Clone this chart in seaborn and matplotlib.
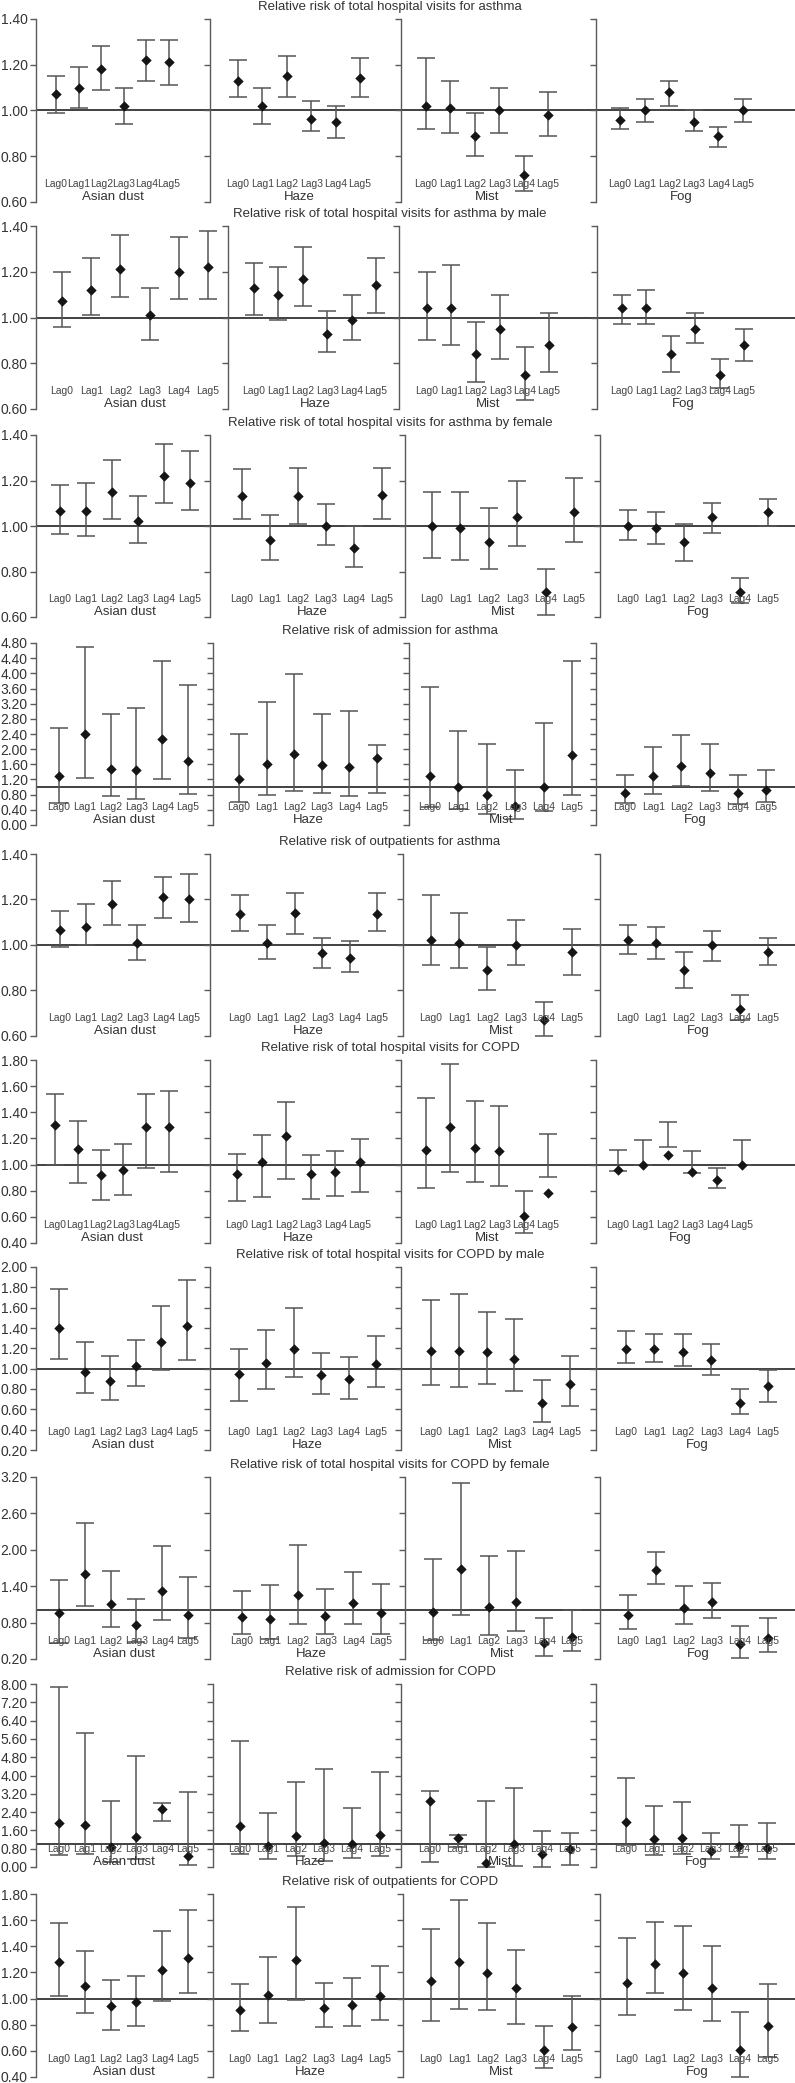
import numpy as np
import pandas as pd
import matplotlib
matplotlib.use("Agg")
import matplotlib.pyplot as plt
import matplotlib.transforms as mtrans
import seaborn as sns

agents = ["Asian dust", "Haze", "Mist", "Fog"]
lags = ["Lag0", "Lag1", "Lag2", "Lag3", "Lag4", "Lag5"]

# each list: [Asian dust, Haze, Mist, Fog] x Lag0..Lag5
asthma_total_rr = [[1.07, 1.10, 1.18, 1.02, 1.22, 1.21], [1.13, 1.02, 1.15, 0.965, 0.95, 1.14],
                   [1.02, 1.01, 0.89, 1.00, 0.72, 0.98], [0.96, 1.00, 1.08, 0.95, 0.89, 1.00]]
asthma_total_lo = [[0.99, 1.01, 1.09, 0.94, 1.13, 1.11], [1.06, 0.94, 1.06, 0.91, 0.88, 1.06],
                   [0.92, 0.90, 0.80, 0.90, 0.65, 0.89], [0.92, 0.95, 1.02, 0.91, 0.84, 0.95]]
asthma_total_hi = [[1.15, 1.19, 1.28, 1.10, 1.31, 1.31], [1.22, 1.10, 1.24, 1.04, 1.02, 1.23],
                   [1.23, 1.13, 0.99, 1.10, 0.80, 1.08], [1.01, 1.05, 1.13, 1.00, 0.93, 1.05]]

asthma_male_rr = [[1.07, 1.12, 1.21, 1.01, 1.20, 1.22], [1.13, 1.10, 1.17, 0.93, 0.99, 1.14],
                  [1.04, 1.04, 0.84, 0.95, 0.75, 0.88], [1.04, 1.04, 0.84, 0.95, 0.75, 0.88]]
asthma_male_lo = [[0.96, 1.01, 1.09, 0.90, 1.08, 1.08], [1.01, 0.99, 1.05, 0.85, 0.90, 1.02],
                  [0.90, 0.88, 0.72, 0.82, 0.64, 0.76], [0.97, 0.97, 0.76, 0.89, 0.69, 0.81]]
asthma_male_hi = [[1.20, 1.26, 1.36, 1.13, 1.35, 1.38], [1.24, 1.22, 1.31, 1.03, 1.10, 1.26],
                  [1.20, 1.23, 0.98, 1.10, 0.87, 1.02], [1.10, 1.12, 0.92, 1.02, 0.82, 0.95]]

asthma_female_rr = [[1.065, 1.066, 1.15, 1.02, 1.22, 1.19], [1.13, 0.94, 1.13, 1.00, 0.905, 1.135],
                    [1.00, 0.99, 0.93, 1.04, 0.71, 1.06], [1.00, 0.99, 0.93, 1.04, 0.71, 1.06]]
asthma_female_lo = [[0.965, 0.955, 1.03, 0.925, 1.10, 1.07], [1.03, 0.85, 1.01, 0.915, 0.82, 1.03],
                    [0.86, 0.85, 0.81, 0.91, 0.61, 0.93], [0.94, 0.92, 0.845, 0.97, 0.66, 1.00]]
asthma_female_hi = [[1.18, 1.19, 1.29, 1.13, 1.36, 1.33], [1.25, 1.05, 1.255, 1.095, 1.00, 1.255],
                    [1.15, 1.15, 1.08, 1.20, 0.81, 1.21], [1.07, 1.06, 1.01, 1.10, 0.77, 1.12]]

asthma_adm_rr = [[1.28, 2.41, 1.48, 1.45, 2.28, 1.70], [1.21, 1.62, 1.88, 1.58, 1.52, 1.78],
                 [1.30, 1.00, 0.79, 0.49, 1.01, 1.85], [0.85, 1.29, 1.55, 1.38, 0.85, 0.92]]
asthma_adm_lo = [[0.59, 1.23, 0.77, 0.68, 1.21, 0.81], [0.61, 0.80, 0.90, 0.84, 0.76, 0.85],
                 [0.48, 0.41, 0.29, 0.17, 0.37, 0.78], [0.58, 0.83, 1.02, 0.90, 0.55, 0.61]]
asthma_adm_hi = [[2.57, 4.70, 2.94, 3.08, 4.32, 3.69], [2.41, 3.25, 3.99, 2.94, 3.01, 2.11],
                 [3.63, 2.47, 2.14, 1.45, 2.70, 4.32], [1.33, 2.05, 2.37, 2.13, 1.33, 1.46]]

asthma_out_rr = [[1.065, 1.077, 1.18, 1.01, 1.21, 1.20], [1.135, 1.01, 1.14, 0.965, 0.945, 1.137],
                 [1.02, 1.01, 0.89, 1.00, 0.67, 0.97], [1.02, 1.01, 0.89, 1.00, 0.717, 0.97]]
asthma_out_lo = [[0.99, 1.00, 1.09, 0.935, 1.12, 1.10], [1.06, 0.94, 1.05, 0.90, 0.88, 1.06],
                 [0.91, 0.90, 0.80, 0.91, 0.60, 0.87], [0.96, 0.94, 0.81, 0.93, 0.67, 0.91]]
asthma_out_hi = [[1.15, 1.18, 1.28, 1.09, 1.30, 1.31], [1.22, 1.09, 1.23, 1.03, 1.017, 1.23],
                 [1.22, 1.14, 0.99, 1.11, 0.75, 1.07], [1.09, 1.08, 0.97, 1.06, 0.78, 1.03]]

copd_total_rr = [[1.30, 1.12, 0.92, 0.96, 1.29, 1.29], [0.926, 1.02, 1.22, 0.926, 0.946, 1.018],
                 [1.11, 1.29, 1.13, 1.10, 0.607, 0.783], [0.955, 1.00, 1.075, 0.944, 0.885, 1.00]]
copd_total_lo = [[1.00, 0.86, 0.73, 0.77, 0.97, 0.94], [0.724, 0.75, 0.893, 0.737, 0.757, 0.79],
                 [0.824, 0.944, 0.865, 0.834, 0.476, 0.905], [0.95, 1.00, 1.135, 0.935, 0.82, 1.00]]
copd_total_hi = [[1.54, 1.33, 1.11, 1.16, 1.54, 1.565], [1.084, 1.23, 1.475, 1.074, 1.10, 1.194],
                 [1.506, 1.772, 1.485, 1.45, 0.798, 1.232], [1.115, 1.19, 1.325, 1.10, 0.977, 1.19]]

copd_male_rr = [[1.40, 0.972, 0.88, 1.03, 1.26, 1.415], [0.952, 1.054, 1.195, 0.936, 0.897, 1.048],
                [1.176, 1.176, 1.163, 1.094, 0.667, 0.847], [1.19, 1.19, 1.163, 1.09, 0.66, 0.834]]
copd_male_lo = [[1.10, 0.765, 0.69, 0.828, 0.987, 1.083], [0.683, 0.80, 0.92, 0.752, 0.70, 0.824],
                [0.84, 0.818, 0.85, 0.78, 0.48, 0.633], [1.054, 1.064, 1.025, 0.94, 0.555, 0.67]]
copd_male_hi = [[1.784, 1.258, 1.12, 1.284, 1.62, 1.87], [1.19, 1.376, 1.596, 1.156, 1.11, 1.317],
                [1.672, 1.734, 1.56, 1.49, 0.887, 1.12], [1.37, 1.34, 1.34, 1.24, 0.798, 0.99]]

copd_female_rr = [[0.956, 1.609, 1.104, 0.753, 1.318, 0.923], [0.896, 0.863, 1.263, 0.912, 1.115, 0.962],
                  [0.973, 1.69, 1.055, 1.143, 0.457, 0.567], [0.923, 1.669, 1.038, 1.143, 0.44, 0.545]]
copd_female_lo = [[0.457, 1.077, 0.73, 0.48, 0.85, 0.55], [0.605, 0.523, 0.77, 0.62, 0.77, 0.62],
                  [0.506, 0.92, 0.59, 0.665, 0.243, 0.34], [0.693, 1.444, 0.77, 0.88, 0.22, 0.31]]
copd_female_hi = [[1.494, 2.448, 1.658, 1.192, 2.07, 1.554], [1.324, 1.42, 2.075, 1.346, 1.642, 1.444],
                  [1.85, 3.106, 1.90, 1.987, 0.88, 1.00], [1.258, 1.965, 1.406, 1.46, 0.737, 0.88]]

copd_adm_rr = [[1.94, 1.82, 0.88, 1.31, 2.53, 0.48], [1.81, 0.905, 1.34, 1.05, 0.99, 1.42],
               [2.89, 1.26, 0.16, 0.99, 0.57, 0.77], [1.97, 1.21, 1.28, 0.70, 0.91, 0.82]]
copd_adm_lo = [[0.54, 0.58, 0.22, 0.35, 2.03, 0.07], [0.58, 0.35, 0.48, 0.26, 0.40, 0.48],
               [0.22, 0.86, 0.02, 0.06, 0.02, 0.10], [0.98, 0.54, 0.58, 0.33, 0.44, 0.35]]
copd_adm_hi = [[7.88, 5.84, 2.89, 4.85, 2.79, 3.30], [5.52, 2.34, 3.72, 4.29, 2.58, 4.16],
               [3.31, 1.42, 2.89, 3.47, 1.58, 1.50], [3.87, 2.67, 2.85, 1.50, 1.85, 1.93]]

copd_out_rr = [[1.28, 1.10, 0.943, 0.974, 1.218, 1.312], [0.915, 1.03, 1.295, 0.925, 0.95, 1.02],
               [1.134, 1.28, 1.198, 1.08, 0.604, 0.785], [1.12, 1.267, 1.198, 1.08, 0.604, 0.79]]
copd_out_lo = [[1.022, 0.89, 0.76, 0.793, 0.98, 1.04], [0.752, 0.81, 0.99, 0.78, 0.79, 0.833],
               [0.826, 0.92, 0.912, 0.805, 0.47, 0.61], [0.877, 1.043, 0.91, 0.826, 0.40, 0.55]]
copd_out_hi = [[1.578, 1.366, 1.14, 1.17, 1.514, 1.68], [1.11, 1.318, 1.70, 1.118, 1.158, 1.246],
               [1.532, 1.752, 1.575, 1.368, 0.793, 1.017], [1.464, 1.585, 1.558, 1.40, 0.894, 1.113]]

titles = [
    "Relative risk of total hospital visits for asthma",
    "Relative risk of total hospital visits for asthma by male",
    "Relative risk of total hospital visits for asthma by female",
    "Relative risk of admission for asthma",
    "Relative risk of outpatients for asthma",
    "Relative risk of total hospital visits for COPD",
    "Relative risk of total hospital visits for COPD by male",
    "Relative risk of total hospital visits for COPD by female",
    "Relative risk of admission for COPD",
    "Relative risk of outpatients for COPD",
]
y_ranges = [(0.6, 1.4, 0.2), (0.6, 1.4, 0.2), (0.6, 1.4, 0.2), (0.0, 4.8, 0.4), (0.6, 1.4, 0.2),
            (0.4, 1.8, 0.2), (0.2, 2.0, 0.2), (0.2, 3.2, 0.6), (0.0, 8.0, 0.8), (0.4, 1.8, 0.2)]
series = [
    (asthma_total_rr, asthma_total_lo, asthma_total_hi),
    (asthma_male_rr, asthma_male_lo, asthma_male_hi),
    (asthma_female_rr, asthma_female_lo, asthma_female_hi),
    (asthma_adm_rr, asthma_adm_lo, asthma_adm_hi),
    (asthma_out_rr, asthma_out_lo, asthma_out_hi),
    (copd_total_rr, copd_total_lo, copd_total_hi),
    (copd_male_rr, copd_male_lo, copd_male_hi),
    (copd_female_rr, copd_female_lo, copd_female_hi),
    (copd_adm_rr, copd_adm_lo, copd_adm_hi),
    (copd_out_rr, copd_out_lo, copd_out_hi),
]

# layout in pixels (figure is 795 x 2083)
W, H = 795, 2083
row_box = [(19, 202), (226, 409), (435, 617), (643, 825), (854, 1036),
           (1060, 1243), (1267, 1450), (1477, 1659), (1684, 1867), (1894, 2077)]
row_seps = [[210, 401, 596], [228, 399, 597], [210, 405, 600], [213, 409, 596], [210, 403, 600],
            [210, 401, 596], [210, 401, 596], [210, 405, 600], [213, 401, 596], [213, 403, 600]]
lag_span = [
    [(56, 169), (238, 360), (426, 548), (620, 743)],
    [(62, 208), (254, 376), (427, 549), (622, 744)],
    [(60, 190), (242, 382), (432, 574), (628, 768)],
    [(59, 188), (239, 377), (430, 572), (625, 766)],
    [(60, 189), (240, 377), (431, 572), (628, 768)],
    [(55, 169), (237, 360), (426, 548), (618, 742)],
    [(59, 187), (239, 376), (431, 570), (626, 768)],
    [(59, 188), (242, 381), (433, 572), (628, 768)],
    [(59, 188), (240, 380), (430, 570), (626, 767)],
    [(59, 188), (240, 380), (431, 572), (627, 768)],
]
LEFT = 36

sns.set_theme(style="white")
plt.rcParams["font.family"] = ["Liberation Sans", "DejaVu Sans"]

fig = plt.figure(figsize=(W / 100, H / 100), dpi=100)
axis_col = "#5a5a5a"

for r in range(len(titles)):
    top, bottom = row_box[r]
    ymin, ymax, ystep = y_ranges[r]
    rr_all, lo_all, hi_all = series[r]
    edges = [LEFT] + row_seps[r] + [W]
    for p in range(4):
        l, rgt = edges[p], edges[p + 1]
        ax = fig.add_axes([l / W, 1 - bottom / H, (rgt - l) / W, (bottom - top) / H])
        ax.set_facecolor("none")
        first, last = lag_span[r][p]
        step = (last - first) / 5
        ax.set_xlim(-(first - l) / step, 5 + (rgt - last) / step)
        ax.set_ylim(ymin, ymax)

        df = pd.DataFrame({"lag": np.arange(6), "rr": rr_all[p], "lo": lo_all[p], "hi": hi_all[p]})
        ax.axhline(1.0, color="#333333", lw=1.3, zorder=1)
        ax.errorbar(df["lag"], (df["lo"] + df["hi"]) / 2, yerr=(df["hi"] - df["lo"]) / 2,
                    fmt="none", ecolor="#555555", elinewidth=1.1, capsize=6.5, capthick=1.1, zorder=2)
        sns.scatterplot(data=df, x="lag", y="rr", marker="D", s=28, color="#151515",
                        edgecolor="#151515", linewidth=0, legend=False, ax=ax, zorder=3)

        trans = mtrans.blended_transform_factory(ax.transData, ax.transAxes)
        for i, lab in enumerate(lags):
            ax.text(i, 0.10, lab, transform=trans, ha="center", va="center",
                    fontsize=7.5, color="#444444")
        ax.text(2.5, 0.03, agents[p], transform=trans, ha="center", va="center",
                fontsize=9.5, color="#333333")

        ax.set_xlabel("")
        ax.set_ylabel("")
        ax.set_xticks([])
        ticks = np.round(np.arange(ymin, ymax + ystep / 2, ystep), 2)
        ax.set_yticks(ticks)
        if p == 0:
            ax.set_yticklabels([f"{t:.2f}" for t in ticks])
        ax.tick_params(axis="y", direction="out", length=4, width=1, color=axis_col,
                       labelsize=10, labelcolor="#333333", pad=2, labelleft=(p == 0), left=True)
        for s in ["top", "right", "bottom"]:
            ax.spines[s].set_visible(False)
        ax.spines["left"].set_color(axis_col)
        ax.spines["left"].set_linewidth(1)

    fig.text(390 / W, 1 - (top - 12) / H, titles[r], ha="center", va="center",
             fontsize=9.5, color="#333333")

fig.savefig("out.png", dpi=100)
